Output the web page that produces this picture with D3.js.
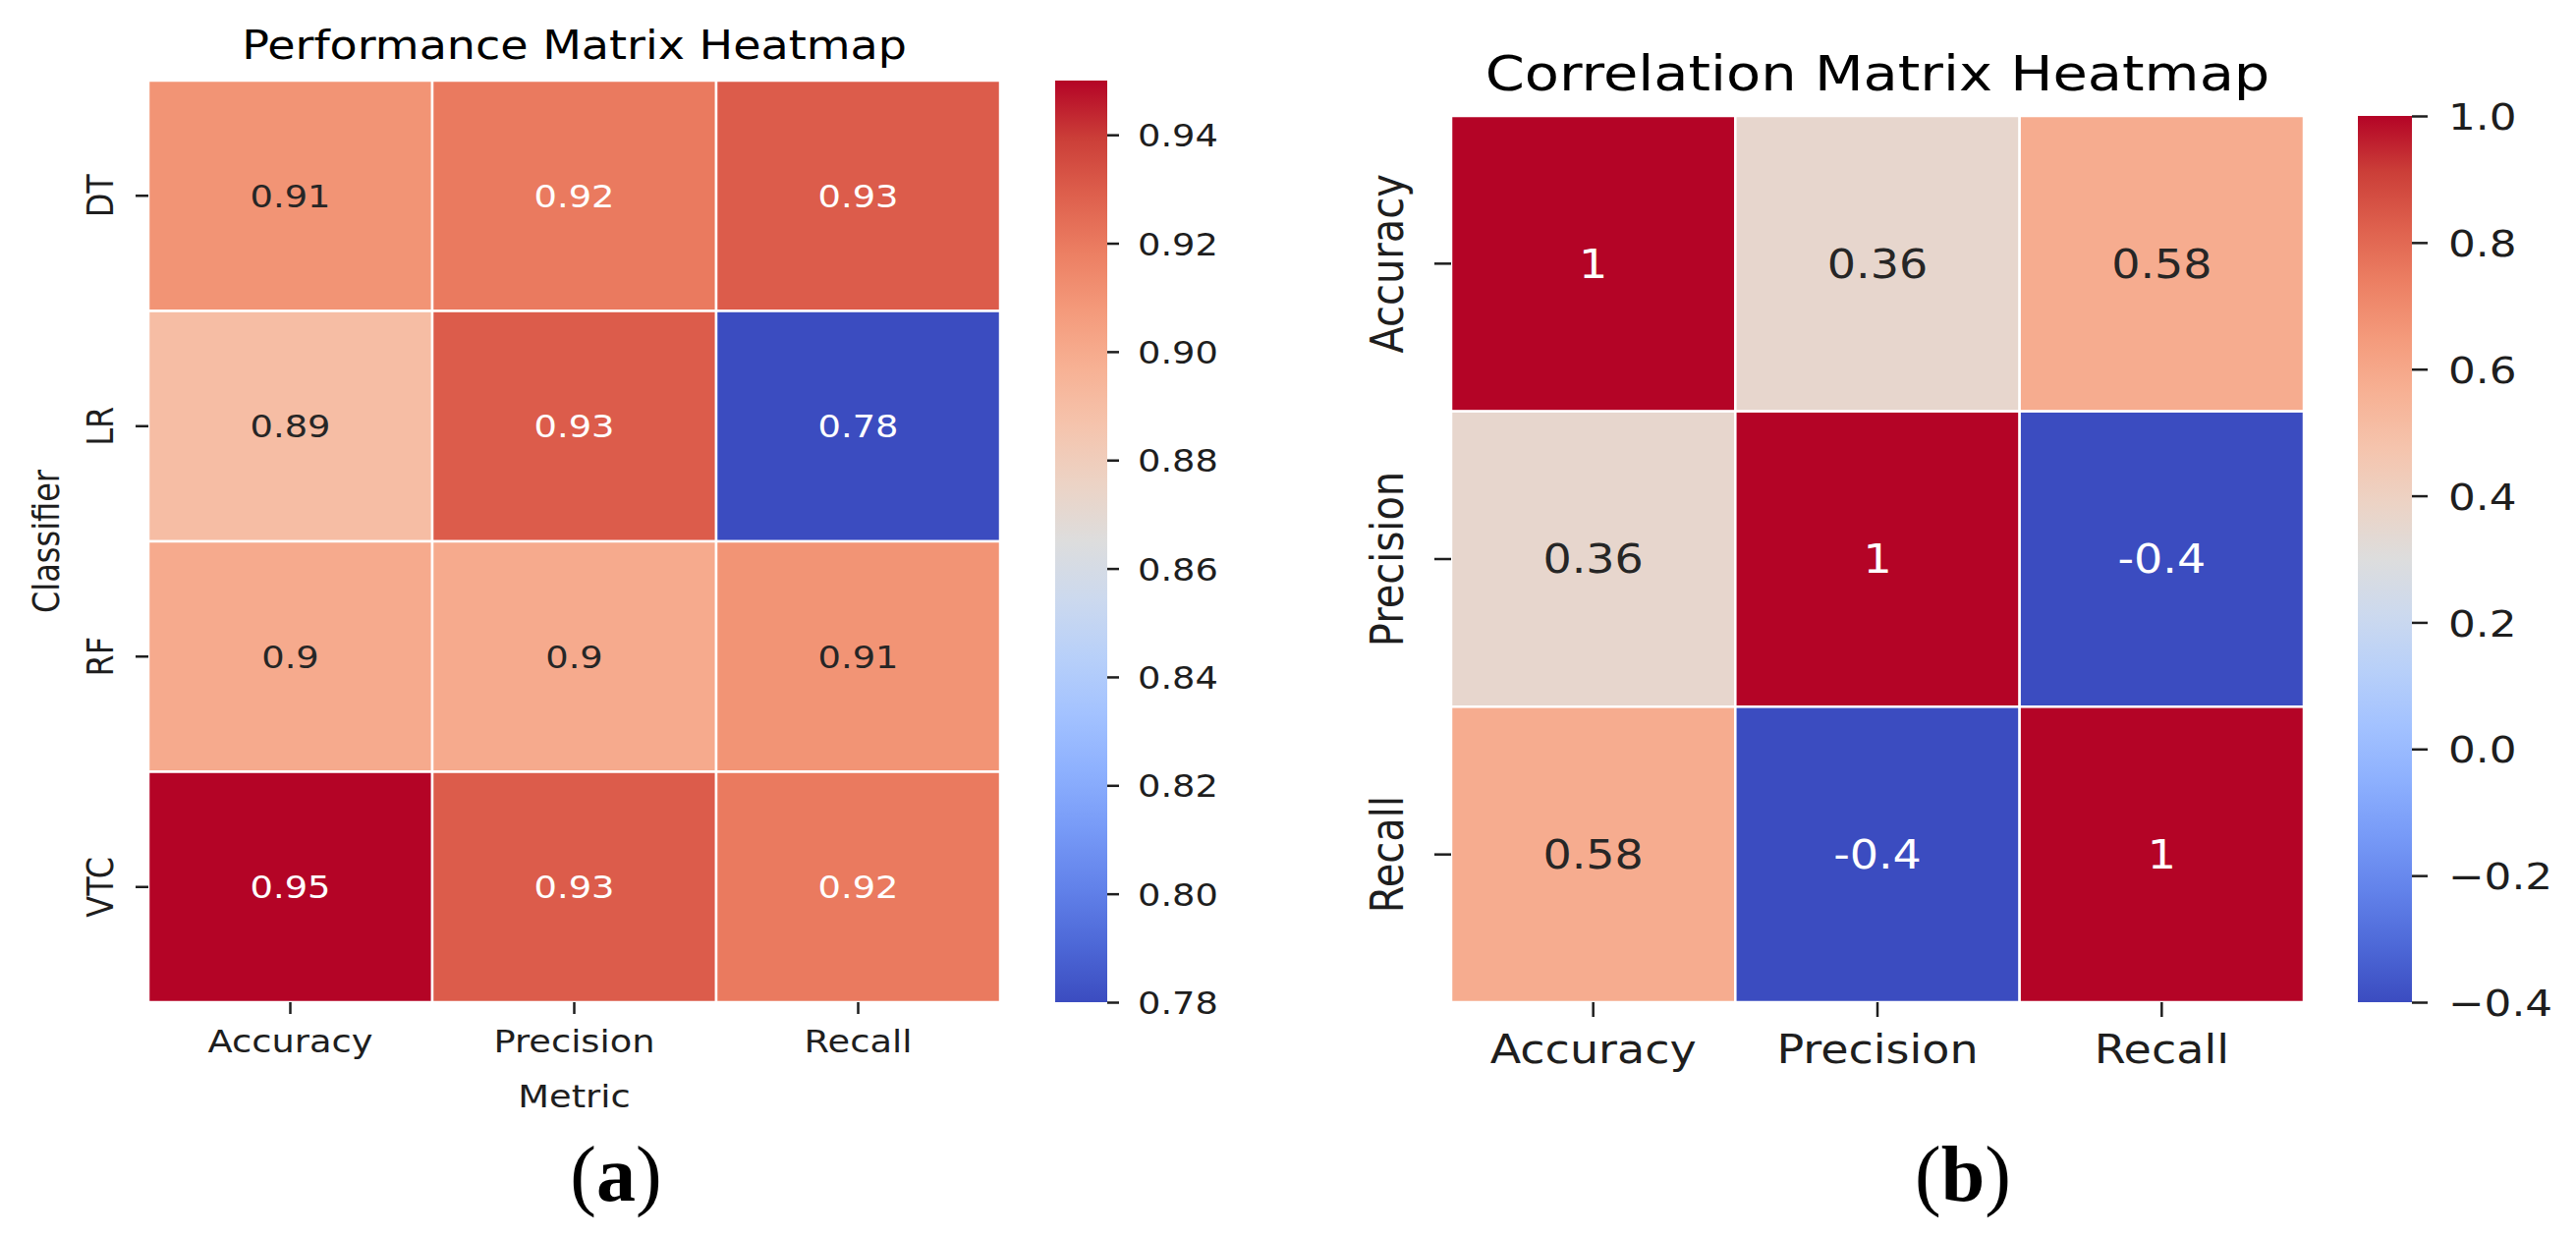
<!DOCTYPE html>
<html>
<head>
<meta charset="utf-8">
<script src="https://cdn.jsdelivr.net/npm/d3@7"></script>
<style>
  body { margin: 0; background: #fff; }
  svg text { font-family: "DejaVu Sans", sans-serif; }
</style>
</head>
<body>
<svg id="chart" width="2622" height="1259"></svg>
<script>
// chart data
const classifiers = ["DT", "LR", "RF", "VTC"];
const metrics = ["Accuracy", "Precision", "Recall"];
const perfValues = [
  [0.91, 0.92, 0.93],
  [0.89, 0.93, 0.78],
  [0.90, 0.90, 0.91],
  [0.95, 0.93, 0.92]
];
const corrValues = [
  [1, 0.36, 0.58],
  [0.36, 1, -0.4],
  [0.58, -0.4, 1]
];
const perfTicks = [0.78, 0.80, 0.82, 0.84, 0.86, 0.88, 0.90, 0.92, 0.94];
const corrTicks = [-0.4, -0.2, 0.0, 0.2, 0.4, 0.6, 0.8, 1.0];

// matplotlib coolwarm, sampled every 1/16
const coolwarmStops = [
  [0.0, 0.2298, 0.2987, 0.7537], [0.0625, 0.3039, 0.4065, 0.8450],
  [0.125, 0.3830, 0.5094, 0.9174], [0.1875, 0.4667, 0.6046, 0.9682],
  [0.25, 0.5530, 0.6889, 0.9954], [0.3125, 0.6392, 0.7596, 0.9982],
  [0.375, 0.7222, 0.8140, 0.9766], [0.4375, 0.7987, 0.8498, 0.9317],
  [0.5, 0.8654, 0.8654, 0.8654], [0.5625, 0.9241, 0.8274, 0.7745],
  [0.625, 0.9589, 0.7698, 0.6780], [0.6875, 0.9700, 0.6943, 0.5794],
  [0.75, 0.9580, 0.6028, 0.4818], [0.8125, 0.9239, 0.4973, 0.3880],
  [0.875, 0.8692, 0.3783, 0.3003], [0.9375, 0.7956, 0.2413, 0.2205],
  [1.0, 0.7057, 0.0156, 0.1502]
];
const stopColor = s => d3.rgb(s[1] * 255, s[2] * 255, s[3] * 255).formatHex();
const coolwarm = d3.scaleLinear()
  .domain(coolwarmStops.map(s => s[0]))
  .range(coolwarmStops.map(stopColor))
  .interpolate(d3.interpolateRgb)
  .clamp(true);

// seaborn picks annotation colour from relative luminance
function luminance(c) {
  const rgb = d3.rgb(c);
  const lin = v => { v /= 255; return v <= 0.03928 ? v / 12.92 : Math.pow((v + 0.055) / 1.055, 2.4); };
  return 0.2126 * lin(rgb.r) + 0.7152 * lin(rgb.g) + 0.0722 * lin(rgb.b);
}

const annotFmt = d3.formatLocale({ decimal: ".", thousands: ",", grouping: [3], currency: ["", ""], minus: "-" }).format(".2~g");
const SX = 1.15; // the figure is slightly stretched horizontally
const ink = "#1e1e1e";

const svg = d3.select("#chart");
const defs = svg.append("defs");

function drawHeatmap(cfg) {
  const g = svg.append("g");
  const x = d3.scaleBand().domain(cfg.cols).range([cfg.left, cfg.right]);
  const y = d3.scaleBand().domain(cfg.rows).range([cfg.top, cfg.bottom]);
  const t = d3.scaleLinear().domain([cfg.vmin, cfg.vmax]).range([0, 1]);
  const color = v => coolwarm(t(v));

  const cells = cfg.values.flatMap((row, i) => row.map((v, j) => ({ r: cfg.rows[i], c: cfg.cols[j], v })));

  g.selectAll("rect.cell").data(cells).join("rect")
    .attr("class", "cell")
    .attr("x", d => x(d.c)).attr("y", d => y(d.r))
    .attr("width", x.bandwidth()).attr("height", y.bandwidth())
    .attr("fill", d => color(d.v))
    .attr("stroke", "#fff").attr("stroke-width", cfg.grid);

  g.selectAll("text.annot").data(cells).join("text")
    .attr("class", "annot")
    .attr("transform", d => `translate(${x(d.c) + x.bandwidth() / 2},${y(d.r) + y.bandwidth() / 2}) scale(${SX},1)`)
    .attr("text-anchor", "middle").attr("dy", "0.36em")
    .attr("font-size", cfg.font)
    .attr("fill", d => luminance(color(d.v)) > 0.408 ? "#262626" : "#ffffff")
    .text(d => annotFmt(d.v));

  // x axis
  const gx = g.append("g")
    .attr("transform", `translate(0,${cfg.bottom})`)
    .call(d3.axisBottom(x).tickSize(cfg.tick).tickPadding(0))
    .attr("font-size", null).attr("font-family", null);
  gx.select(".domain").remove();
  gx.selectAll(".tick line").attr("stroke", ink).attr("stroke-width", cfg.tickW);
  gx.selectAll(".tick text")
    .attr("y", null).attr("dy", null)
    .attr("transform", `translate(0,${cfg.xLab}) scale(${SX},1)`)
    .attr("font-size", cfg.font).attr("fill", ink);

  // y axis, labels turned upright
  const gy = g.append("g")
    .attr("transform", `translate(${cfg.left},0)`)
    .call(d3.axisLeft(y).tickSize(cfg.ytick).tickPadding(0))
    .attr("font-size", null).attr("font-family", null);
  gy.select(".domain").remove();
  gy.selectAll(".tick line").attr("stroke", ink).attr("stroke-width", cfg.tickW);
  gy.selectAll(".tick text")
    .attr("x", null).attr("dy", null)
    .attr("text-anchor", "middle")
    .attr("transform", `translate(${-cfg.yLab},0) scale(${SX},1) rotate(-90)`)
    .attr("font-size", cfg.font).attr("fill", ink);

  // colour bar
  const gid = "grad" + cfg.id;
  const grad = defs.append("linearGradient").attr("id", gid)
    .attr("x1", 0).attr("y1", 1).attr("x2", 0).attr("y2", 0);
  grad.selectAll("stop").data(coolwarmStops).join("stop")
    .attr("offset", s => s[0]).attr("stop-color", stopColor);
  const cb = d3.scaleLinear().domain([cfg.vmin, cfg.vmax]).range([cfg.bottom, cfg.top]);
  g.append("rect")
    .attr("x", cfg.cbLeft).attr("y", cfg.top)
    .attr("width", cfg.cbRight - cfg.cbLeft).attr("height", cfg.bottom - cfg.top)
    .attr("fill", `url(#${gid})`);
  const gc = g.append("g")
    .attr("transform", `translate(${cfg.cbRight},0)`)
    .call(d3.axisRight(cb).tickValues(cfg.ticks).tickFormat(d3.format(cfg.tickFmt)).tickSize(cfg.cbTick).tickPadding(0))
    .attr("font-size", null).attr("font-family", null);
  gc.select(".domain").remove();
  gc.selectAll(".tick line").attr("stroke", ink).attr("stroke-width", cfg.tickW);
  gc.selectAll(".tick text")
    .attr("x", null).attr("dy", "0.36em")
    .attr("text-anchor", "start")
    .attr("transform", `translate(${cfg.cbLab},0) scale(${SX},1)`)
    .attr("font-size", cfg.cbFont).attr("fill", ink);

  // titles
  const mid = (cfg.left + cfg.right) / 2;
  g.append("text")
    .attr("transform", `translate(${mid},${cfg.titleY}) scale(${SX},1)`)
    .attr("text-anchor", "middle").attr("font-size", cfg.titleFont).attr("fill", "#000")
    .text(cfg.title);
  if (cfg.xTitle) {
    g.append("text")
      .attr("transform", `translate(${mid},${cfg.xTitleY}) scale(${SX},1)`)
      .attr("text-anchor", "middle").attr("font-size", cfg.font).attr("fill", ink)
      .text(cfg.xTitle);
  }
  if (cfg.yTitle) {
    g.append("text")
      .attr("transform", `translate(${cfg.yTitleX},${(cfg.top + cfg.bottom) / 2}) scale(${SX},1) rotate(-90)`)
      .attr("text-anchor", "middle").attr("font-size", cfg.font).attr("fill", ink)
      .text(cfg.yTitle);
  }

  // sub-figure caption
  const cap = svg.append("text")
    .attr("x", cfg.capX).attr("y", cfg.capY)
    .attr("text-anchor", "middle")
    .style("font-family", "'Liberation Serif', 'Times New Roman', serif")
    .attr("font-size", 80).attr("fill", "#000");
  cap.append("tspan").text("(");
  cap.append("tspan").attr("font-weight", "bold").text(cfg.caption);
  cap.append("tspan").text(")");
}

drawHeatmap({
  id: "a", rows: classifiers, cols: metrics, values: perfValues,
  vmin: 0.78, vmax: 0.95, ticks: perfTicks, tickFmt: ".2f",
  left: 151, right: 1018, top: 82, bottom: 1020,
  grid: 2.5, font: 32, cbFont: 32, titleFont: 40, tickW: 2.5,
  tick: 12, xLab: 51, ytick: 13, yLab: 36,
  cbLeft: 1074, cbRight: 1127, cbTick: 12, cbLab: 31,
  title: "Performance Matrix Heatmap", titleY: 60,
  xTitle: "Metric", xTitleY: 1127,
  yTitle: "Classifier", yTitleX: 60,
  caption: "a", capX: 627, capY: 1222
});

drawHeatmap({
  id: "b", rows: metrics, cols: metrics, values: corrValues,
  vmin: -0.4, vmax: 1.0, ticks: corrTicks, tickFmt: ".1f",
  left: 1477, right: 2345, top: 118, bottom: 1020,
  grid: 2.5, font: 40, cbFont: 38, titleFont: 50, tickW: 2.5,
  tick: 15, xLab: 62, ytick: 17, yLab: 49,
  cbLeft: 2400, cbRight: 2455, cbTick: 16, cbLab: 37,
  title: "Correlation Matrix Heatmap", titleY: 92,
  caption: "b", capX: 1998, capY: 1222
});
</script>
</body>
</html>
